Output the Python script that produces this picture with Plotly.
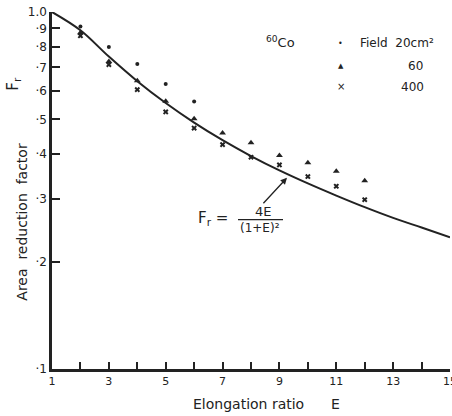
import plotly.graph_objects as go

# Data
E_pts = [2, 3, 4, 5, 6, 7, 8, 9, 10, 11, 12]
field20_E = [2, 3, 4, 5, 6]
field20 = [0.910, 0.798, 0.715, 0.629, 0.561]
field60 = [0.875, 0.727, 0.642, 0.562, 0.502, 0.458, 0.430, 0.396, 0.378, 0.358, 0.337]
field400 = [0.858, 0.712, 0.606, 0.525, 0.473, 0.425, 0.392, 0.373, 0.346, 0.325, 0.298]

curve_E = [1, 2, 3, 4, 5, 6, 7, 8, 9, 10, 11, 12, 13, 14, 15]
curve_F = [1.0, 0.889, 0.75, 0.64, 0.556, 0.49, 0.4375, 0.395, 0.36, 0.331, 0.306,
           0.284, 0.265, 0.249, 0.234]

x_ticks = list(range(1, 16))
x_ticktext = [str(v) if v % 2 == 1 else "" for v in x_ticks]
y_ticks = [0.1, 0.2, 0.3, 0.4, 0.5, 0.6, 0.7, 0.8, 0.9, 1.0]
y_ticktext = ["·1", "·2", "·3", "·4", "·5", "·6", "·7", "·8", "·9", "1.0"]

FONT = "DejaVu Sans"
INK = "#222222"

fig = go.Figure()
fig.add_trace(go.Scatter(x=curve_E, y=curve_F, mode="lines", line=dict(color=INK, width=2, shape="spline"),
                         showlegend=False, hoverinfo="skip"))
fig.add_trace(go.Scatter(x=field20_E, y=field20, mode="markers",
                         marker=dict(symbol="circle", size=4, color=INK), showlegend=False))
fig.add_trace(go.Scatter(x=E_pts, y=field60, mode="markers",
                         marker=dict(symbol="triangle-up", size=6, color=INK), showlegend=False))
fig.add_trace(go.Scatter(x=E_pts, y=field400, mode="markers",
                         marker=dict(symbol="x", size=5, color=INK, line=dict(width=0)), showlegend=False))

L, R, T, B = 52, 450, 12.3, 369.3
W = R - L
H = B - T
FIG_W, FIG_H = 452, 416


def px(x):
    return (x - L) / W


def py(y):
    return (B - y) / H


def ann(x, y, text, size=12, angle=0, xanchor="center"):
    fig.add_annotation(x=px(x), y=py(y), xref="paper", yref="paper", text=text, showarrow=False,
                       font=dict(family=FONT, size=size, color=INK), textangle=angle, xanchor=xanchor,
                       yanchor="middle")


# legend-like labels
ann(280, 42, "<sup>60</sup>Co", size=13)
ann(340, 44, "•", size=8)
ann(341, 66, "▲", size=7)
ann(341, 87, "×", size=10)
ann(358, 43, "Field  20cm²", size=12, xanchor="left")
ann(415, 66, "60", size=12)
ann(412, 87, "400", size=12)

# axis titles
ann(22, 222, "Area  reduction  factor", size=14, angle=-90)
ann(14, 84, "F<sub>r</sub>", size=15, angle=-90)
ann(266, 404, "Elongation ratio      E", size=14)

# formula
ann(213, 219, "F<sub>r</sub> =", size=15)
ann(263, 212, "4E", size=13)
ann(260, 228, "(1+E)²", size=12)
fig.add_shape(type="line", xref="paper", yref="paper", x0=px(238), x1=px(283), y0=py(220), y1=py(220),
              line=dict(color=INK, width=1.2))
fig.add_annotation(x=px(287), y=py(178), xref="paper", yref="paper", text="", showarrow=True,
                   ax=-25, ay=27, arrowhead=2, arrowsize=1, arrowwidth=1.3, arrowcolor=INK)

fig.update_xaxes(range=[1, 15], tickvals=x_ticks, ticktext=x_ticktext, ticks="inside", ticklen=7,
                 tickwidth=1.5, tickcolor=INK, showline=True, linewidth=2.5, linecolor=INK,
                 showgrid=False, zeroline=False, ticklabeloverflow="allow", automargin=False,
                 tickfont=dict(family=FONT, size=11, color=INK))
fig.update_yaxes(type="log", range=[-1, 0], tickvals=y_ticks, ticktext=y_ticktext, ticks="inside",
                 ticklen=8, tickwidth=1.5, tickcolor=INK, showline=True, linewidth=2.5, linecolor=INK,
                 showgrid=False, zeroline=False, ticklabeloverflow="allow", automargin=False,
                 tickfont=dict(family=FONT, size=12, color=INK))

fig.update_layout(width=FIG_W, height=FIG_H,
                  margin=dict(l=L, r=FIG_W - R, t=T, b=FIG_H - B, autoexpand=False),
                  plot_bgcolor="white", paper_bgcolor="white", showlegend=False)

fig.write_html("out.html", config={"displayModeBar": False},
               post_script="document.body.style.margin='0';document.body.style.overflow='hidden';")
